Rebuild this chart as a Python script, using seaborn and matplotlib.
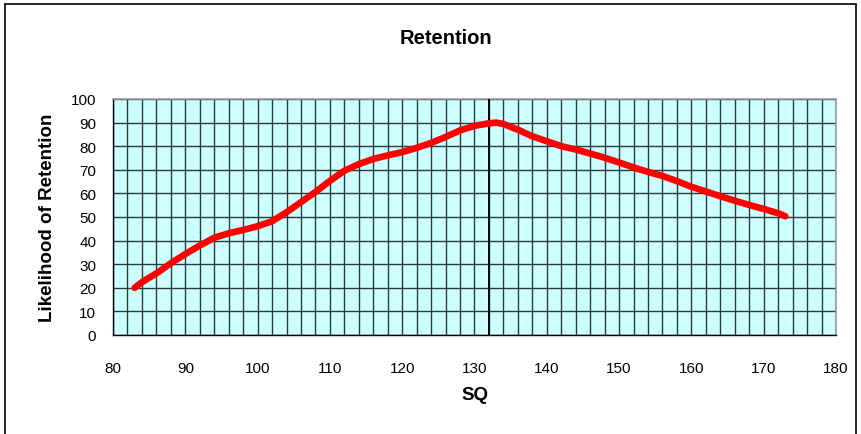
import pandas as pd
import seaborn as sns
import matplotlib.pyplot as plt
from matplotlib.lines import Line2D

# values
sq = [83, 84, 86, 88, 90, 92, 94, 96, 98, 100, 102, 104, 106, 108, 110,
      112, 114, 116, 118, 120, 122, 124, 126, 128, 130, 132, 133, 134,
      136, 138, 140, 142, 144, 146, 148, 150, 152, 154, 156, 158, 160,
      162, 164, 166, 168, 170, 172, 173]
retention = [20, 22.4, 26.1, 30.4, 34.3, 37.9, 41.2, 43.1, 44.5, 46.1,
             48.2, 52, 56.3, 60.6, 65.3, 69.6, 72.4, 74.6, 76.1, 77.5,
             79.3, 81.4, 83.9, 86.7, 88.6, 89.7, 90, 89.4, 87, 84.2,
             82.1, 80, 78.6, 76.9, 75.1, 73.1, 71, 69.1, 67.4, 65.2,
             62.8, 60.8, 58.8, 56.9, 55.1, 53.4, 51.6, 50.3]
marker_sq = 132
x_ticks = list(range(80, 181, 10))
y_ticks = list(range(0, 101, 10))

sns.set_theme(style="white")
plt.rcParams["font.family"] = ["Liberation Sans", "DejaVu Sans"]
plt.rcParams["text.color"] = "black"
plt.rcParams["axes.labelcolor"] = "black"
plt.rcParams["xtick.color"] = "black"
plt.rcParams["ytick.color"] = "black"

df = pd.DataFrame({"SQ": sq, "Likelihood of Retention": retention})

fig = plt.figure(figsize=(8.62, 4.35), dpi=100)
ax = fig.add_axes([113 / 862, 1 - 336 / 435, (836 - 113) / 862, (336 - 100) / 435])
ax.set_facecolor("#ccffff")

sns.lineplot(data=df, x="SQ", y="Likelihood of Retention", color="#ff0000",
             linewidth=4.8, solid_capstyle="round", ax=ax, zorder=4)
ax.axvline(marker_sq, color="black", linewidth=1.4, zorder=3)

ax.set_xlim(80, 180)
ax.set_ylim(0, 100)
ax.set_xticks(x_ticks)
ax.set_xticks(range(80, 181, 2), minor=True)
ax.set_yticks(y_ticks)
ax.grid(True, which="both", color="#2a3a3a", linewidth=1.0, zorder=1)
ax.set_axisbelow(True)

ax.tick_params(axis="both", which="major", direction="out", length=5,
               width=1, color="black", labelcolor="black", labelsize=11)
ax.tick_params(axis="y", which="major", pad=7)
ax.tick_params(axis="x", which="major", pad=14)
ax.tick_params(axis="both", which="minor", length=0)

for side in ["left", "bottom"]:
    ax.spines[side].set_color("black")
    ax.spines[side].set_linewidth(1)
for side in ["top", "right"]:
    ax.spines[side].set_color("#999999")
    ax.spines[side].set_linewidth(1.2)

ax.set_xlabel("SQ", fontsize=13.5, fontweight="bold", labelpad=8, color="black")
ax.set_ylabel("Likelihood of Retention", fontsize=13.5, fontweight="bold",
              labelpad=11, color="black")
fig.text(446 / 862, 1 - 38 / 435, "Retention", ha="center", va="center",
         fontsize=14.5, fontweight="bold", color="black")

# outer chart frame (bottom edge falls outside the picture)
frame = dict(color="black", linewidth=1.2, transform=fig.transFigure)
fig.add_artist(Line2D([5 / 862, 5 / 862], [0, 1 - 5 / 435], **frame))
fig.add_artist(Line2D([5 / 862, 856 / 862], [1 - 5 / 435, 1 - 5 / 435], **frame))
fig.add_artist(Line2D([856 / 862, 856 / 862], [0, 1 - 5 / 435], **frame))

fig.savefig("out.png", dpi=100, facecolor="white")
